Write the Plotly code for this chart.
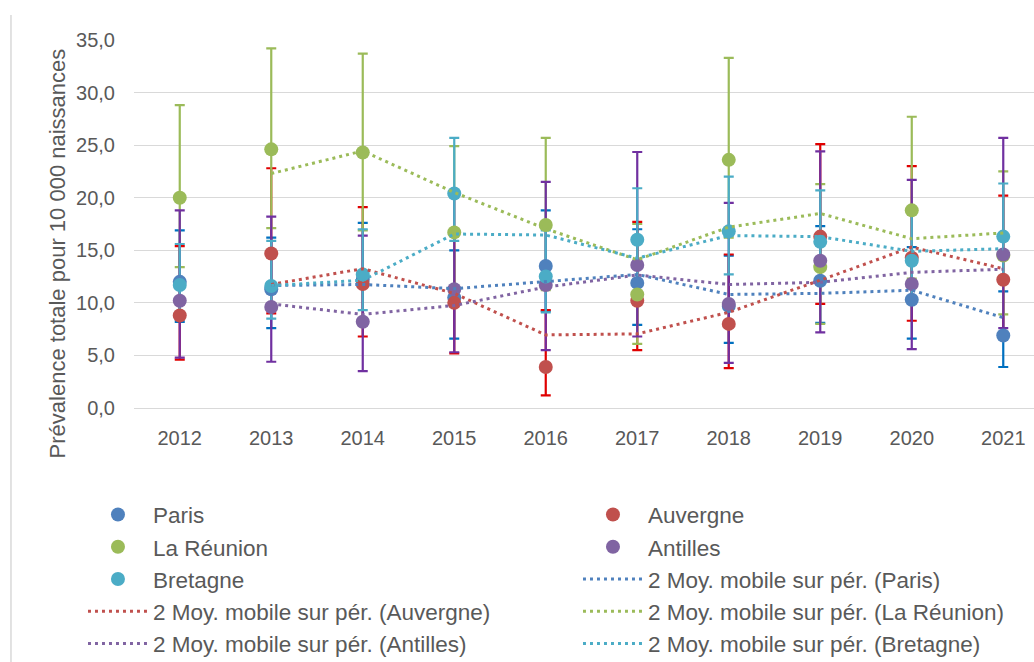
import plotly.graph_objects as go
import pandas as pd

years = [2012, 2013, 2014, 2015, 2016, 2017, 2018, 2019, 2020, 2021]

regions = ["Paris", "Auvergne", "La Réunion", "Antilles", "Bretagne"]

paris = [12.0, 11.3, 12.2, 10.5, 13.5, 11.9, 9.7, 12.1, 10.3, 6.9]
paris_hi = [16.9, 16.2, 17.6, 15.0, 18.8, 17.0, 14.5, 17.3, 15.3, 11.1]
paris_lo = [8.2, 7.6, 7.9, 6.6, 9.2, 7.9, 6.2, 8.1, 6.6, 3.9]

auvergne = [8.8, 14.7, 11.8, 10.0, 3.9, 10.2, 8.0, 16.3, 14.3, 12.2]
auvergne_hi = [15.4, 22.8, 19.1, 17.0, 9.3, 17.7, 14.6, 25.1, 23.0, 20.2]
auvergne_lo = [4.6, 9.0, 6.8, 5.2, 1.2, 5.5, 3.8, 9.9, 8.3, 6.8]

reunion = [20.0, 24.6, 24.3, 16.7, 17.4, 10.8, 23.6, 13.4, 18.8, 14.5]
reunion_hi = [28.8, 34.2, 33.7, 24.9, 25.7, 17.5, 33.3, 21.3, 27.7, 22.5]
reunion_lo = [13.4, 17.1, 16.9, 10.7, 11.2, 6.1, 16.2, 8.0, 12.3, 8.9]

antilles = [10.2, 9.6, 8.2, 11.3, 11.7, 13.6, 9.9, 14.0, 11.8, 14.6]
antilles_hi = [18.8, 18.2, 16.4, 20.3, 21.5, 24.35, 19.5, 24.4, 21.7, 25.7]
antilles_lo = [4.8, 4.4, 3.5, 5.3, 5.5, 6.8, 4.3, 7.2, 5.6, 7.6]

bretagne = [11.7, 11.6, 12.7, 20.4, 12.5, 16.0, 16.8, 15.8, 14.0, 16.3]
bretagne_hi = [15.6, 15.9, 17.0, 25.7, 16.9, 20.9, 22.0, 20.7, 18.6, 21.35]
bretagne_lo = [8.4, 8.5, 9.3, 15.9, 9.1, 12.0, 12.7, 11.9, 10.4, 12.3]

y_ticks = [0, 5, 10, 15, 20, 25, 30, 35]
y_title = "Prévalence totale pour 10 000 naissances"
ma_label = "2 Moy. mobile sur pér. ({})"

values = [paris, auvergne, reunion, antilles, bretagne]
highs = [paris_hi, auvergne_hi, reunion_hi, antilles_hi, bretagne_hi]
lows = [paris_lo, auvergne_lo, reunion_lo, antilles_lo, bretagne_lo]

marker_colors = ["#4F81BD", "#C0504D", "#9BBB59", "#8064A2", "#4BACC6"]
error_colors = ["#0070C0", "#E00000", "#9BBB59", "#7030A0", "#4BACC6"]
text_color = "#595959"
font_family = "Liberation Sans, Arial, sans-serif"

# legend entries are laid out in two columns, reading left to right
entry_order = regions + [ma_label.format(r) for r in regions]
legend_of = {name: ("legend" if k % 2 == 0 else "legend2") for k, name in enumerate(entry_order)}
rank_of = {name: k + 1 for k, name in enumerate(entry_order)}

fig = go.Figure()

# error bars (drawn below all markers)
for name, v, hi, lo, ec in zip(regions, values, highs, lows, error_colors):
    fig.add_trace(go.Scatter(
        x=years, y=v, mode="markers",
        marker=dict(size=14, opacity=0),
        error_y=dict(type="data", symmetric=False,
                     array=[h - a for h, a in zip(hi, v)],
                     arrayminus=[a - l for a, l in zip(v, lo)],
                     color=ec, thickness=2.2, width=5),
        showlegend=False, hoverinfo="skip"))

# markers
for name, v, mc in zip(regions, values, marker_colors):
    fig.add_trace(go.Scatter(
        x=years, y=v, mode="markers", name=name,
        marker=dict(size=14, color=mc, line=dict(width=0)),
        legend=legend_of[name], legendrank=rank_of[name]))

# 2-period moving average trendlines
for name, v, mc in zip(regions, values, marker_colors):
    ma = pd.Series(v).rolling(2).mean()
    label = ma_label.format(name)
    fig.add_trace(go.Scatter(
        x=years[1:], y=list(ma[1:]), mode="lines", name=label,
        line=dict(color=mc, width=3, dash="3px,4px"),
        legend=legend_of[label], legendrank=rank_of[label]))

legend_common = dict(orientation="v", xanchor="left", yanchor="top", y=-0.232,
                     font=dict(size=22.5, color=text_color, family=font_family),
                     itemwidth=60, bgcolor="rgba(0,0,0,0)", traceorder="normal",
                     borderwidth=0)

fig.update_layout(
    width=1034, height=662,
    margin=dict(l=134, r=0, t=40, b=254, autoexpand=False),
    paper_bgcolor="white", plot_bgcolor="white",
    separators=", ",
    font=dict(family=font_family, color=text_color, size=20),
    showlegend=True,
    legend=dict(x=-0.0567, **legend_common),
    legend2=dict(x=0.4933, **legend_common),
    xaxis=dict(range=[2011.5, 2021.336], tickmode="array", tickvals=years,
               ticktext=[str(y) for y in years], showgrid=False, zeroline=False,
               showline=False, ticks="", ticklabelstandoff=16,
               tickfont=dict(size=20, color=text_color)),
    yaxis=dict(range=[0, 35], tickmode="array", tickvals=y_ticks, tickformat=".1f",
               showgrid=True, gridcolor="#D9D9D9", gridwidth=1.3,
               zeroline=True, zerolinecolor="#D9D9D9", zerolinewidth=1.3,
               showline=False, ticks="", ticklabelstandoff=18,
               tickfont=dict(size=20, color=text_color)),
    annotations=[dict(text=y_title, textangle=-90, xref="paper", yref="paper",
                      x=-0.0856, y=0.42, xanchor="center", yanchor="middle",
                      showarrow=False, font=dict(size=22, color=text_color))],
    shapes=[dict(type="line", xref="paper", yref="paper",
                 x0=-0.1367, x1=-0.1367, y0=1.068, y1=-0.7,
                 line=dict(color="#D9D9D9", width=1.5))],
)

fig.write_html("out.html", config={"displayModeBar": False},
               post_script="document.body.style.margin='0';")
